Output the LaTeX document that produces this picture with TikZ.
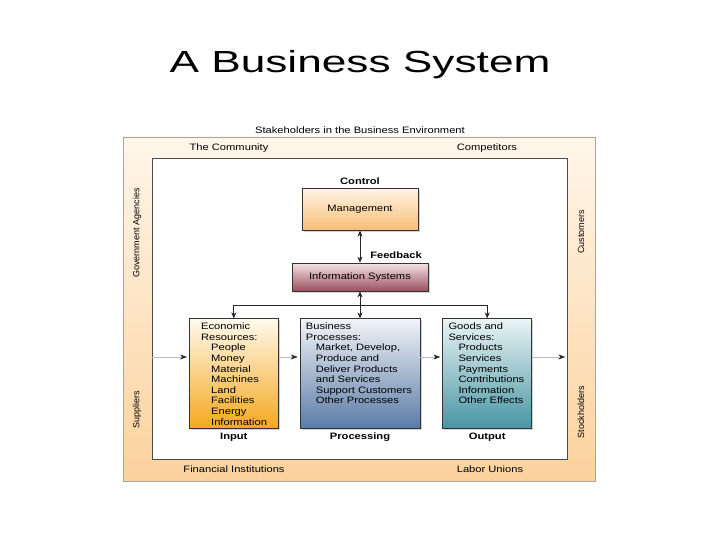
\documentclass[tikz,border=0pt]{standalone}
\usepackage{fontspec}
\setmainfont{Liberation Sans}[FakeStretch=1.2]
\newfontfamily\titlefont{Liberation Sans}[FakeStretch=1.45]
\newfontfamily\sidefont{Liberation Sans}
\usepackage{xcolor}
\usepackage{tikz}
\usetikzlibrary{positioning, arrows.meta, shadows}
\definecolor{frametop}{HTML}{FFF6EA}
\definecolor{framebot}{HTML}{FBD29D}
\definecolor{mgmttop}{HTML}{FFF4E6}
\definecolor{mgmtbot}{HTML}{F7BE74}
\definecolor{infotop}{HTML}{F4E3E6}
\definecolor{infobot}{HTML}{9A5060}
\definecolor{inputtop}{HTML}{FFF9EE}
\definecolor{inputbot}{HTML}{F4A81C}
\definecolor{proctop}{HTML}{F2F4F8}
\definecolor{procbot}{HTML}{5A7BA6}
\definecolor{outtop}{HTML}{EAF4F5}
\definecolor{outbot}{HTML}{4795A2}
\newcommand{\boxfont}{\fontsize{9.3}{10.6}\selectfont}
\newcommand{\ind}{\hspace*{10pt}}
\tikzstyle{block} = [rectangle, draw=black!80, line width=0.7pt, font=\boxfont, drop shadow={shadow xshift=1.5pt, shadow yshift=-1.5pt, opacity=0.35}]
\tikzstyle{listing} = [align=left, anchor=north west, inner sep=0pt, font=\boxfont]
\tikzstyle{tag} = [font=\boxfont]
\tikzstyle{side} = [font=\sidefont\fontsize{9}{10}\selectfont, rotate=90]
\tikzstyle{head} = [font=\boxfont\bfseries]
\tikzstyle{arrow} = [-{Stealth[length=6pt,width=5pt]}, line width=0.7pt, black!85]
\tikzstyle{biarrow} = [{Stealth[length=6pt,width=5pt]}-{Stealth[length=6pt,width=5pt]}, line width=0.7pt, black!85]
\tikzstyle{flow} = [-{Stealth[length=7pt,width=5pt,color=black!85]}, line width=0.6pt, gray!55, shorten >=2pt]

\begin{document}
\begin{tikzpicture}[x=1pt, y=-1pt]
\useasboundingbox (0,0) rectangle (720,540);

% Title
\node[font=\titlefont\fontsize{30.5}{36}\selectfont] (title) at (360,65) {A Business System};

% Environment frame
\node[draw=gray!70, line width=0.6pt, top color=frametop, bottom color=framebot, minimum width=472pt, minimum height=344pt] (stake) at (359,309) {};
\node[draw=black!70, line width=0.6pt, fill=white, minimum width=415pt, minimum height=301pt] (env) at (359.5,308.5) {};
\node[tag] (stakes) at (360,130) {Stakeholders in the Business Environment};
\node[tag] (community) at (229,148) {The Community};
\node[tag] (competitors) at (487,148) {Competitors};
\node[tag] (finance) at (234,469) {Financial Institutions};
\node[tag] (labor) at (490,469) {Labor Unions};
\node[side] (gov) at (137,233) {Government Agencies};
\node[side] (suppliers) at (137,410) {Suppliers};
\node[side] (customers) at (581,232) {Customers};
\node[side] (stockholders) at (581,412) {Stockholders};

% Control and information
\node[block, top color=infotop, bottom color=infobot, minimum width=136pt, minimum height=28pt] (info) at (360,277) {Information Systems};
\node[block, above=32pt of info, top color=mgmttop, bottom color=mgmtbot, minimum width=116pt, minimum height=42pt] (mgmt) {Management};
\node[head, above=0pt of mgmt] (control) {Control};
\node[head] (feedback) at (396,255) {Feedback};

% Input, processing, output
\node[block, below=27pt of info, top color=proctop, bottom color=procbot, minimum width=120pt, minimum height=110pt] (proc) {};
\node[block, left=21pt of proc, top color=inputtop, bottom color=inputbot, minimum width=89pt, minimum height=110pt] (input) {};
\node[block, right=22pt of proc, top color=outtop, bottom color=outbot, minimum width=89pt, minimum height=110pt] (output) {};

\node[listing] (inputlist) at ([xshift=12pt, yshift=-4.5pt]input.north west) {Economic\\Resources:\\\ind People\\\ind Money\\\ind Material\\\ind Machines\\\ind Land\\\ind Facilities\\\ind Energy\\\ind Information};
\node[listing] (proclist) at ([xshift=6pt, yshift=-4.5pt]proc.north west) {Business\\Processes:\\\ind Market, Develop,\\\ind Produce and\\\ind Deliver Products\\\ind and Services\\\ind Support Customers\\\ind Other Processes};
\node[listing] (outlist) at ([xshift=6pt, yshift=-4.5pt]output.north west) {Goods and\\Services:\\\ind Products\\\ind Services\\\ind Payments\\\ind Contributions\\\ind Information\\\ind Other Effects};

\node[head, below=0.5pt of input] (inputlbl) {Input};
\node[head, below=0.5pt of proc] (proclbl) {Processing};
\node[head, below=0.5pt of output] (outlbl) {Output};

% Arrows
\coordinate (split) at (360,305);
\coordinate (lane) at (0,357);
\draw[biarrow] (mgmt) -- (info);
\draw[biarrow] (info) -- (proc);
\draw[arrow] (split) -| (input);
\draw[arrow] (split) -| (output);

\draw[flow] (env.west |- lane) -- (input.west |- lane);
\draw[flow] (input.east |- lane) -- (proc.west |- lane);
\draw[flow] (proc.east |- lane) -- (output.west |- lane);
\draw[flow] (output.east |- lane) -- (env.east |- lane);

\end{tikzpicture}
\end{document}
